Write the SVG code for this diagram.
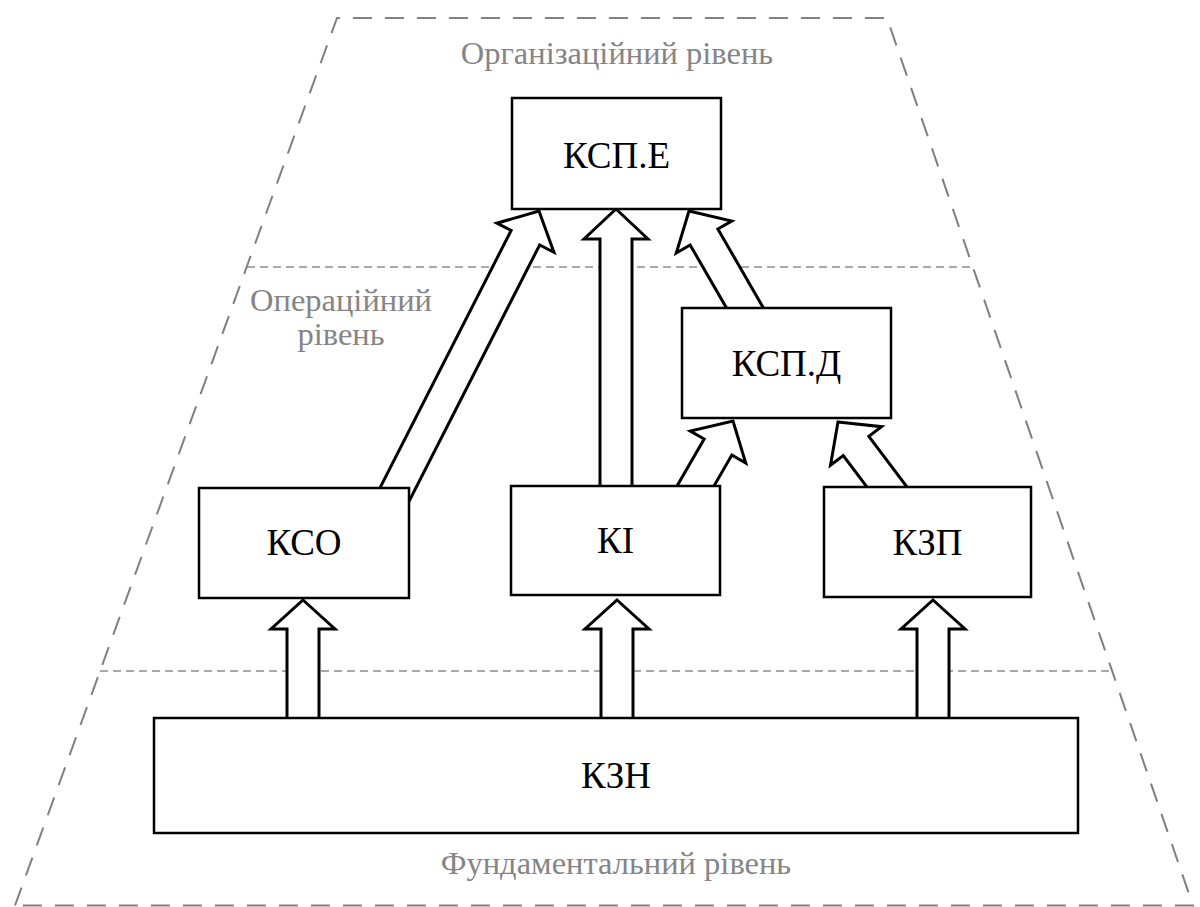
<svg xmlns="http://www.w3.org/2000/svg" width="1200" height="907" viewBox="0 0 1200 907">
<style>
.frame{fill:none;stroke:#808080;stroke-width:2;stroke-dasharray:19,13}
.level{fill:none;stroke:#8c8c8c;stroke-width:1.3;stroke-dasharray:8,5}
.lbl{font-family:"Liberation Serif","DejaVu Serif",serif;font-size:32.5px;fill:#858585;text-anchor:middle}
.box{fill:#fff;stroke:#000;stroke-width:2.5}
.name{font-family:"Liberation Serif","DejaVu Serif",serif;font-size:37px;fill:#000;text-anchor:middle}
.arr{fill:#fff;stroke:#000;stroke-width:3;stroke-linejoin:miter}
</style>
<rect width="1200" height="907" fill="#fff"/>
<g id="levels">
<polygon class="frame" points="15,905.5 337,18 887,18 1193,905.5"/>
<line class="level" x1="247" y1="267" x2="973" y2="267"/>
<line class="level" x1="100" y1="671" x2="1112" y2="671"/>
<text class="lbl" x="617" y="64">Організаційний рівень</text>
<text class="lbl" x="341" y="311">Операційний</text>
<text class="lbl" x="341" y="345">рівень</text>
<text class="lbl" x="616" y="874">Фундаментальний рівень</text>
</g>
<g id="connectors">
<polygon class="arr" transform="translate(303,600)" points="0,0 32,29 16,29 16,120 -16,120 -16,29 -32,29"/>
<polygon class="arr" transform="translate(617,600)" points="0,0 32,29 16,29 16,120 -16,120 -16,29 -32,29"/>
<polygon class="arr" transform="translate(933,600)" points="0,0 32,29 16,29 16,120 -16,120 -16,29 -32,29"/>
<polygon class="arr" transform="translate(616,209)" points="0,0 32,30 16,30 16,282 -16,282 -16,30 -32,30"/>
<polygon class="arr" transform="translate(539,211) rotate(27)" points="0,0 32,30 16,30 16,330 -16,330 -16,30 -32,30"/>
<polygon class="arr" transform="translate(689,211) rotate(-30)" points="0,0 32,30 16,30 16,130 -16,130 -16,30 -32,30"/>
<polygon class="arr" transform="translate(733,421) rotate(30)" points="0,0 32,30 16,30 16,92 -16,92 -16,30 -32,30"/>
<polygon class="arr" transform="translate(838,422) rotate(-37)" points="0,0 32,30 16,30 16,100 -16,100 -16,30 -32,30"/>
</g>
<g id="KSPE"><rect class="box" x="512" y="98" width="209" height="111"/><text class="name" x="616.5" y="168">КСП.Е</text></g>
<g id="KSPD"><rect class="box" x="682" y="308" width="209" height="110"/><text class="name" x="786.5" y="376">КСП.Д</text></g>
<g id="KSO"><rect class="box" x="199" y="488" width="210" height="110"/><text class="name" x="304" y="555">КСО</text></g>
<g id="KI"><rect class="box" x="511" y="486" width="209" height="109"/><text class="name" x="615.5" y="553">КІ</text></g>
<g id="KZP"><rect class="box" x="824" y="487" width="207" height="110"/><text class="name" x="927.5" y="555">КЗП</text></g>
<g id="KZN"><rect class="box" x="154" y="718" width="924" height="115"/><text class="name" x="616" y="788">КЗН</text></g>
</svg>
